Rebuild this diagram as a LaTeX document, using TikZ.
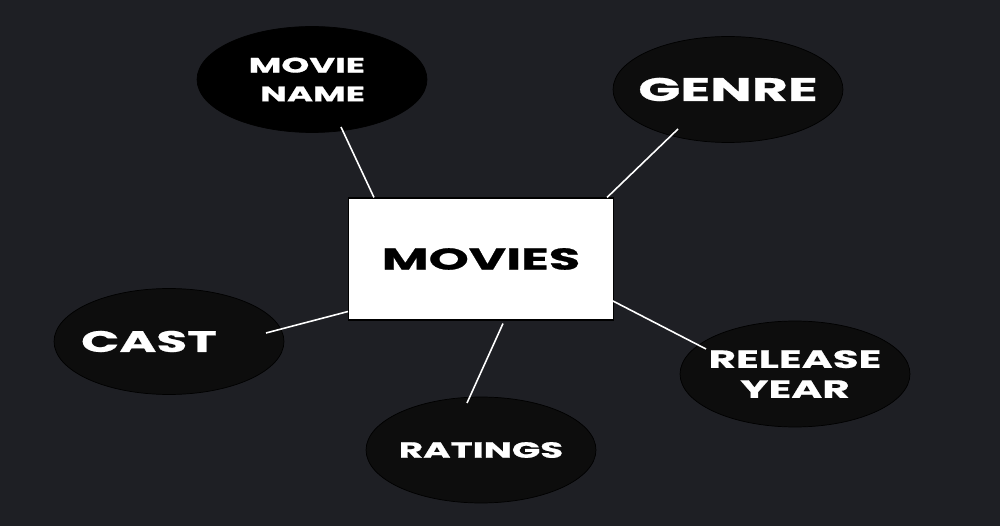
\documentclass[tikz,border=0pt]{standalone}
\usepackage{fontspec}
\setmainfont{Poppins}[FakeStretch=1.7, BoldFeatures={FakeBold=0.8}]
\usetikzlibrary{shapes.geometric}

\definecolor{canvas}{RGB}{30,31,36}
\definecolor{bubble}{RGB}{13,13,13}

% text that does not widen its bubble
\newcommand{\flatlabel}[2][c]{\makebox[0pt][#1]{#2}}

\begin{document}
\begin{tikzpicture}[
    x=0.02cm, y=-0.02cm,
    hub/.style={rectangle, draw=black, fill=white, line width=0.6pt, minimum width=5.3cm, minimum height=2.44cm, inner sep=0pt, font=\bfseries\fontsize{17.1}{20}\selectfont},
    attr/.style={ellipse, draw=black, fill=bubble, text=white, line width=0.4pt, minimum width=4.6cm, minimum height=2.12cm, inner sep=0pt, align=center},
    link/.style={draw=white, line width=0.9pt}
]
\fill[canvas] (0,0) rectangle (1000,526);

\node[hub] (movies) at (481,259) {MOVIES};

\node[attr, fill=black, font=\bfseries\fontsize{11.9}{16.4}\selectfont] (mname) at (312,79.5) {\flatlabel[r]{MOVIE\hspace*{-1.06cm}}\\\flatlabel[r]{NAME\hspace*{-1.06cm}}};
\node[attr, font=\bfseries\fontsize{18.5}{22}\selectfont] (genre) at (728,89.5) {\flatlabel{GENRE}};
\node[attr, font=\bfseries\fontsize{16.8}{20}\selectfont] (cast) at (169,341.5) {\flatlabel{CAST\hspace*{0.8cm}}};
\node[attr, font=\bfseries\fontsize{12.5}{15}\selectfont] (ratings) at (481,450) {\flatlabel{RATINGS}};
\node[attr, font=\bfseries\fontsize{14.1}{17}\selectfont] (ryear) at (795,374) {\flatlabel{RELEASE}\\\flatlabel{YEAR}};

\draw[link] ([shift={(29,47.5)}]mname.center) -- ([shift={(26,0)}]movies.north west);
\draw[link] ([shift={(-50,39.5)}]genre.center) -- ([shift={(-7,0)}]movies.north east);
\draw[link] ([shift={(97,-8.5)}]cast.center) -- ([shift={(0,-9)}]movies.south west);
\draw[link] ([shift={(22,3)}]movies.south) -- ([shift={(-14,-47)}]ratings.center);
\draw[link] ([shift={(-2,-20)}]movies.south east) -- ([shift={(-89,-25)}]ryear.center);
\end{tikzpicture}
\end{document}
